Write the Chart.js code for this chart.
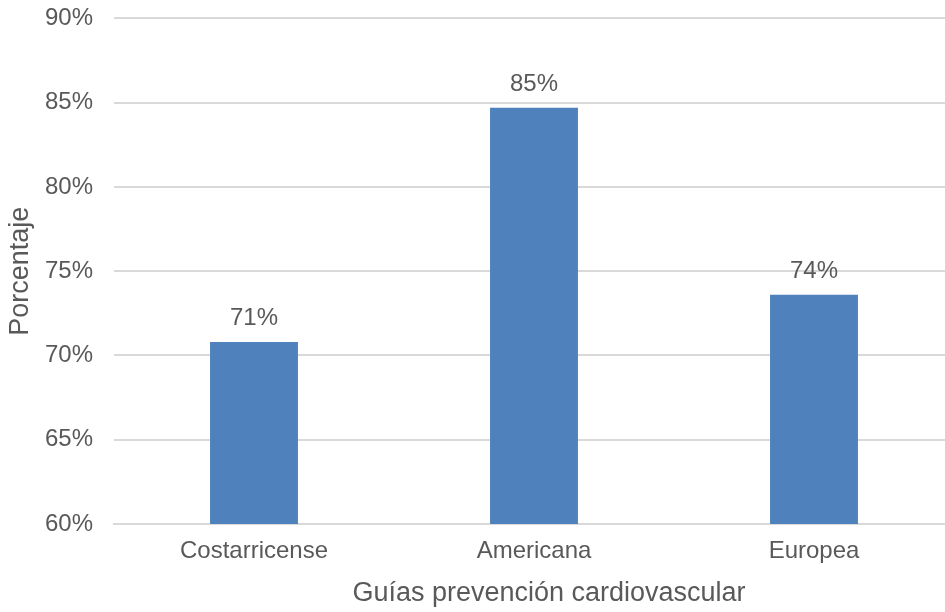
<!DOCTYPE html>
<html>
<head>
<meta charset="utf-8">
<script src="https://cdn.jsdelivr.net/npm/chart.js@4"></script>
<style>
  html, body { margin: 0; padding: 0; background: #fff; overflow: hidden; }
  #wrap { width: 954px; height: 629px; margin-top: -17px; }
</style>
</head>
<body>
<div id="wrap"><canvas id="chart"></canvas></div>
<script>
const categories = ["Costarricense", "Americana", "Europea"];
const values = [70.8, 84.7, 73.6];
const valueLabels = ["71%", "85%", "74%"];
const xTitle = "Guías prevención cardiovascular";

const textColor = "#595959";
const fontFamily = "'Liberation Sans', Arial, sans-serif";

// etiquetas encima de cada barra + titulo del eje x (desplazado como en Excel)
const barLabels = {
  id: "barLabels",
  afterDatasetsDraw(chart) {
    const ctx = chart.ctx;
    const meta = chart.getDatasetMeta(0);
    ctx.save();
    ctx.fillStyle = textColor;
    ctx.font = "24px " + fontFamily;
    ctx.textAlign = "center";
    ctx.textBaseline = "alphabetic";
    meta.data.forEach((bar, i) => {
      ctx.fillText(valueLabels[i], bar.x, bar.y - 17);
    });
    ctx.font = "27px " + fontFamily;
    ctx.textBaseline = "middle";
    const area = chart.chartArea;
    ctx.fillText(xTitle, (area.left + area.right) / 2 + 15, area.bottom + 70);
    ctx.restore();
  },
};

new Chart(document.getElementById("chart"), {
  type: "bar",
  data: {
    labels: categories,
    datasets: [
      {
        data: values,
        backgroundColor: "#4F81BD",
        categoryPercentage: 1,
        barPercentage: 0.314,
      },
    ],
  },
  options: {
    responsive: true,
    maintainAspectRatio: false,
    animation: false,
    layout: { padding: 0 },
    plugins: {
      legend: { display: false },
      tooltip: { enabled: false },
    },
    scales: {
      x: {
        grid: { display: false, drawTicks: false },
        border: { color: "#D9D9D9", width: 2 },
        ticks: {
          color: textColor,
          font: { family: fontFamily, size: 24 },
          padding: 13,
        },
        afterFit(scale) {
          scale.height = 88;
        },
      },
      y: {
        min: 60,
        max: 90,
        ticks: {
          stepSize: 5,
          color: textColor,
          font: { family: fontFamily, size: 24 },
          padding: 21,
          callback: (v) => v + "%",
        },
        grid: { color: "#D9D9D9", lineWidth: 2, drawTicks: false },
        border: { display: false },
        title: {
          display: true,
          text: "Porcentaje",
          color: textColor,
          font: { family: fontFamily, size: 27 },
          padding: { top: 4, bottom: 0 },
        },
        afterFit(scale) {
          scale.width = 114;
        },
      },
    },
  },
  plugins: [barLabels],
});
</script>
</body>
</html>
